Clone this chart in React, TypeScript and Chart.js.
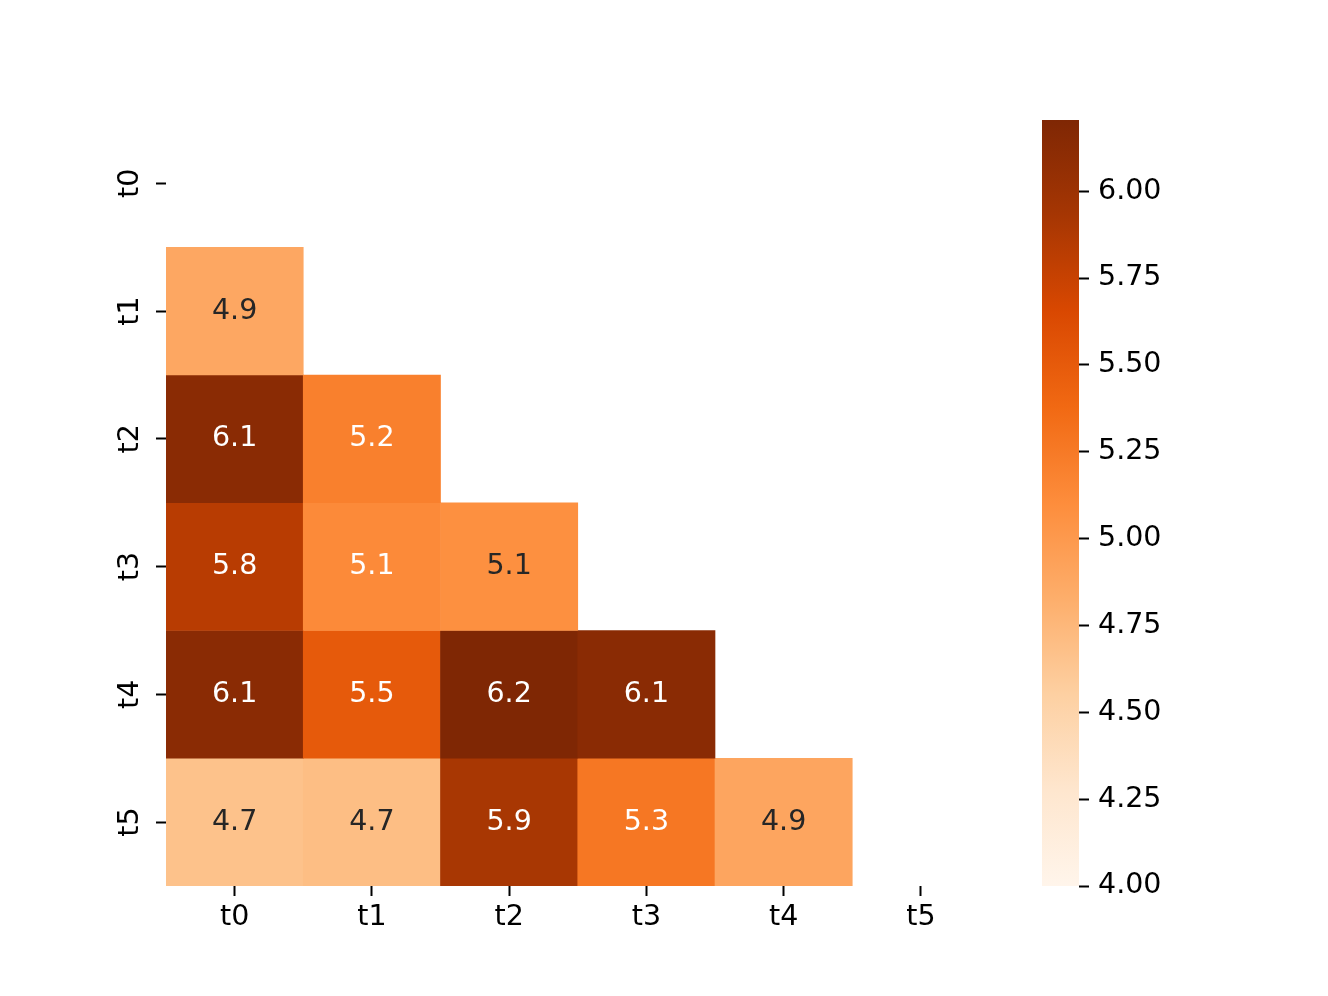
import React, { useEffect, useRef } from "react";
import { Chart, registerables } from "chart.js";

Chart.register(...registerables);

// ---- data ----
const xLabels = ["t0", "t1", "t2", "t3", "t4", "t5"];
const yLabels = ["t0", "t1", "t2", "t3", "t4", "t5"];
const rowT0: number[] = [];
const rowT1 = [4.88];
const rowT2 = [6.12, 5.2];
const rowT3 = [5.83, 5.12, 5.08];
const rowT4 = [6.12, 5.5, 6.205, 6.12];
const rowT5 = [4.67, 4.7, 5.92, 5.27, 4.9];
const colorbarTicks = [4.0, 4.25, 4.5, 4.75, 5.0, 5.25, 5.5, 5.75, 6.0];
const vmin = 4.0;
const vmax = 6.205;

const rows = [rowT0, rowT1, rowT2, rowT3, rowT4, rowT5];

// matplotlib "Oranges" colormap control colours
const orangeStops = [
  [1.0, 0.9607843137, 0.9215686275],
  [0.9960784314, 0.9019607843, 0.8078431373],
  [0.9921568627, 0.8156862745, 0.6352941176],
  [0.9921568627, 0.6823529412, 0.4196078431],
  [0.9921568627, 0.5529411765, 0.2352941176],
  [0.9450980392, 0.4117647059, 0.0745098039],
  [0.8509803922, 0.2823529412, 0.0039215686],
  [0.6509803922, 0.2117647059, 0.0117647059],
  [0.4980392157, 0.1529411765, 0.0156862745],
];

function cmapRGB(v: number): number[] {
  let t = (v - vmin) / (vmax - vmin);
  t = Math.max(0, Math.min(1, t));
  const idx = Math.min(255, Math.floor(t * 256));
  const x = idx / 255;
  const s = x * 8;
  const k = Math.min(7, Math.floor(s));
  const f = s - k;
  const a = orangeStops[k];
  const b = orangeStops[k + 1];
  return [0, 1, 2].map((c) => a[c] + (b[c] - a[c]) * f);
}

function toCss(rgb: number[]): string {
  return `rgb(${Math.round(rgb[0] * 255)},${Math.round(rgb[1] * 255)},${Math.round(rgb[2] * 255)})`;
}

function textColorFor(rgb: number[]): string {
  const lin = rgb.map((c) => (c <= 0.03928 ? c / 12.92 : Math.pow((c + 0.055) / 1.055, 2.4)));
  const lum = 0.2126 * lin[0] + 0.7152 * lin[1] + 0.0722 * lin[2];
  return lum > 0.408 ? "#262626" : "#ffffff";
}

const FONT = { family: "'DejaVu Sans', sans-serif", size: 28.5 };

export default function App() {
  const heatRef = useRef<HTMLCanvasElement>(null);
  const cbRef = useRef<HTMLCanvasElement>(null);

  useEffect(() => {
    Chart.defaults.font.family = FONT.family;

    const datasets = rows.map((row, i) => ({
      label: yLabels[i],
      data: xLabels.map((_, j) => (j < row.length ? [i - 0.5, i + 0.5] : null)),
      backgroundColor: xLabels.map((_, j) =>
        j < row.length ? toCss(cmapRGB(row[j])) : "rgba(0,0,0,0)"
      ),
      borderWidth: 0,
      barPercentage: 1,
      categoryPercentage: 1,
      grouped: false,
    }));

    const annotate = {
      id: "annotate",
      afterDatasetsDraw(chart: any) {
        const ctx = chart.ctx;
        ctx.save();
        ctx.font = `${FONT.size}px ${FONT.family}`;
        ctx.textAlign = "center";
        ctx.textBaseline = "middle";
        rows.forEach((row, i) => {
          const meta = chart.getDatasetMeta(i);
          row.forEach((v, j) => {
            const el: any = meta.data[j];
            if (!el) return;
            ctx.fillStyle = textColorFor(cmapRGB(v));
            ctx.fillText(v.toFixed(1), el.x, (el.y + el.base) / 2);
          });
        });
        ctx.restore();
      },
    };

    const heat = new Chart(heatRef.current!, {
      type: "bar",
      data: { labels: xLabels, datasets: datasets as any },
      options: {
        animation: false,
        responsive: false,
        layout: { padding: { left: 0, top: 119.5, right: 338.5, bottom: 0 } },
        plugins: { legend: { display: false }, tooltip: { enabled: false } },
        scales: {
          x: {
            type: "category",
            offset: true,
            border: { display: false },
            grid: {
              drawOnChartArea: false,
              drawTicks: true,
              tickLength: 10,
              tickWidth: 2,
              tickColor: "#000",
              offset: false,
            },
            ticks: { color: "#000", font: FONT, padding: 4, maxRotation: 0 },
            afterFit(scale: any) {
              scale.height = 110;
            },
          },
          y: {
            type: "linear",
            reverse: true,
            min: -0.5,
            max: 5.5,
            border: { display: false },
            grid: {
              drawOnChartArea: false,
              tickLength: 10,
              tickWidth: 2,
              tickColor: "#000",
            },
            ticks: {
              color: "#000",
              font: FONT,
              padding: 11,
              minRotation: 90,
              maxRotation: 90,
              crossAlign: "center",
              callback: (v: any) => yLabels[Math.round(Number(v))] ?? "",
            },
            afterBuildTicks(scale: any) {
              scale.ticks = yLabels.map((_, i) => ({ value: i }));
            },
            afterFit(scale: any) {
              scale.width = 166;
            },
          },
        },
      } as any,
      plugins: [annotate],
    });

    const cb = new Chart(cbRef.current!, {
      type: "bar",
      data: {
        labels: ["cb"],
        datasets: [
          {
            data: [[vmin, vmax]] as any,
            borderWidth: 0,
            barPercentage: 1,
            categoryPercentage: 1,
            backgroundColor: (context: any) => {
              const area = context.chart.chartArea;
              if (!area) return toCss(cmapRGB((vmin + vmax) / 2));
              const g = context.chart.ctx.createLinearGradient(0, area.bottom, 0, area.top);
              orangeStops.forEach((c, k) => g.addColorStop(k / 8, toCss(c)));
              return g;
            },
          },
        ],
      },
      options: {
        animation: false,
        responsive: false,
        layout: { padding: { left: 1042, top: 120, right: 0, bottom: 110 } },
        plugins: { legend: { display: false }, tooltip: { enabled: false } },
        scales: {
          x: { type: "category", display: false, offset: true },
          y: {
            type: "linear",
            position: "right",
            min: vmin,
            max: vmax,
            border: { display: false },
            grid: {
              drawOnChartArea: false,
              tickLength: 10,
              tickWidth: 2,
              tickColor: "#000",
            },
            ticks: {
              color: "#000",
              font: FONT,
              padding: 9,
              callback: (v: any) => Number(v).toFixed(2),
            },
            afterBuildTicks(scale: any) {
              scale.ticks = colorbarTicks.map((v) => ({ value: v }));
            },
            afterFit(scale: any) {
              scale.width = 249;
            },
          },
        },
      } as any,
    });

    return () => {
      heat.destroy();
      cb.destroy();
    };
  }, []);

  return (
    <div style={{ position: "absolute", left: 0, top: 0, width: 1328, height: 996, background: "#fff" }}>
      <canvas ref={heatRef} width={1328} height={996} style={{ position: "absolute", left: 0, top: 0 }} />
      <canvas ref={cbRef} width={1328} height={996} style={{ position: "absolute", left: 0, top: 0 }} />
    </div>
  );
}
